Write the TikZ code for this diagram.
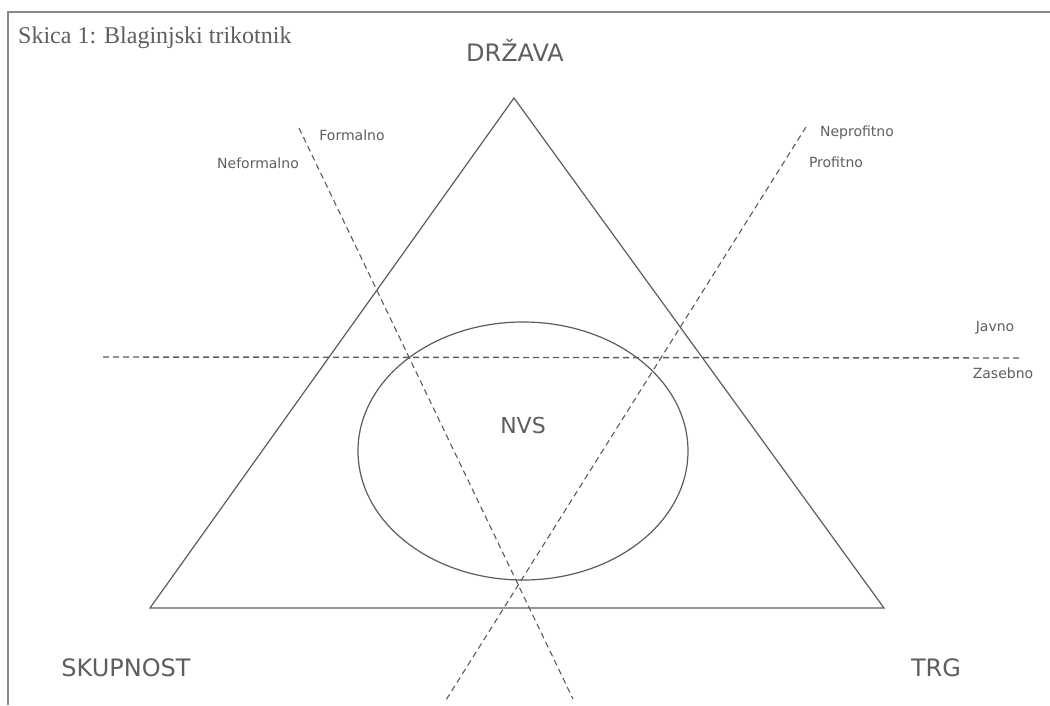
\documentclass[tikz,border=0pt]{standalone}
\usepackage{fontspec}
\setmainfont{Liberation Serif}
\setsansfont{DejaVu Sans}
\usetikzlibrary{shapes.geometric}
\usepackage{xcolor}
\definecolor{scanline}{HTML}{5C5C5C}
\definecolor{scantext}{HTML}{5E5E5E}
\definecolor{frameline}{HTML}{8A8A8A}
\tikzset{
	corner/.style={
		font=\sffamily\fontsize{24}{24}\selectfont,
		text=scantext, inner sep=0pt
	},
	side/.style={
		font=\sffamily\fontsize{14}{14}\selectfont,
		text=scantext, inner sep=0pt
	},
	divide/.style={
		draw=scanline, line width=1.1pt,
		dash pattern=on 6pt off 4pt
	},
	edge/.style={draw=scanline, line width=1.2pt}
}

\begin{document}
\begin{tikzpicture}[x=1pt, y=-1pt]
\useasboundingbox (0,0) rectangle (1050,705);
% frame and caption
\coordinate (f0) at ( 8, 705 );
\coordinate (f1) at ( 8, 12 );
\coordinate (f2) at ( 1050, 12 );
\draw[frameline, line width=1.8pt] (f0) -- (f1) -- (f2);
\node[anchor=base west, inner sep=0pt, text=scantext, font=\fontsize{24}{24}\selectfont] (title) at ( 18, 43 ) {Skica 1: Blaginjski trikotnik};
% triangle
\coordinate (v0) at ( 514, 98 );
\coordinate (v1) at ( 150, 608 );
\coordinate (v2) at ( 884, 608 );
\draw[edge] (v0) -- (v1) -- (v2) -- cycle;
\node[corner] (drzava) at ( 515, 50 ) {DRŽAVA};
\node[corner] (skupnost) at ( 126, 668 ) {SKUPNOST};
\node[corner] (trg) at ( 936, 668 ) {TRG};
% circle
\node[edge, ellipse, minimum width=330, minimum height=258, inner sep=0pt] (krog) at ( 523, 451 ) {};
\node[corner, font=\sffamily\fontsize{22}{22}\selectfont] (nvs) at ( 523, 425 ) {NVS};
% dividing lines
\coordinate (a0) at ( 299, 128 );
\coordinate (a1) at ( 573, 699 );
\coordinate (b0) at ( 806, 127 );
\coordinate (b1) at ( 446, 700 );
\coordinate (c0) at ( 103, 357 );
\coordinate (c1) at ( 1022, 358 );
\draw[divide] (a0) -- (a1);
\draw[divide] (b0) -- (b1);
\draw[divide, line width=1.4pt] (c0) -- (c1);
\node[side] (formalno) at ( 352, 135 ) {Formalno};
\node[side] (neformalno) at ( 258, 163 ) {Neformalno};
\node[side] (neprofitno) at ( 857, 133 ) {Neprofitno};
\node[side] (profitno) at ( 836, 162 ) {Profitno};
\node[side] (javno) at ( 995, 328 ) {Javno};
\node[side] (zasebno) at ( 1003, 373 ) {Zasebno};
\end{tikzpicture}
\end{document}
